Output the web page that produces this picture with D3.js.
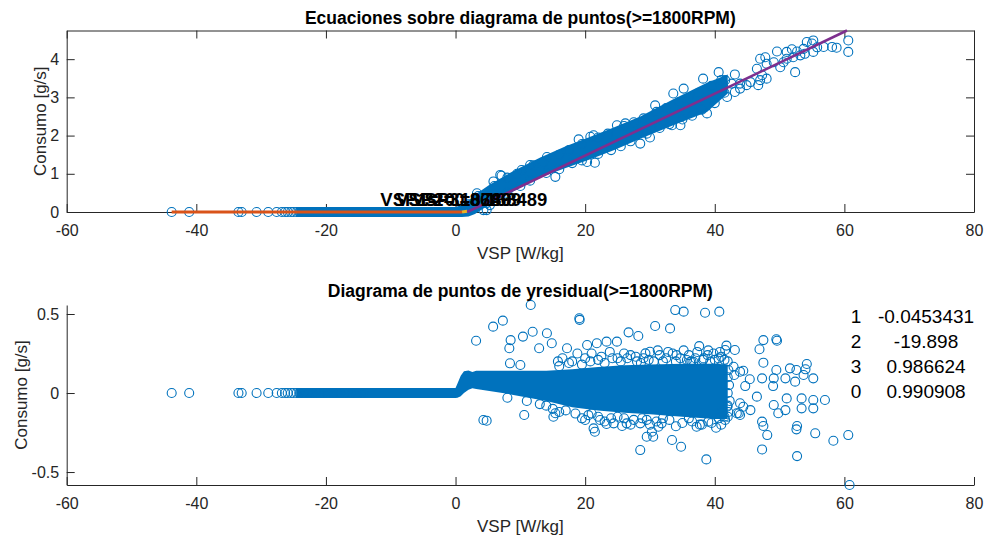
<!DOCTYPE html>
<html>
<head>
<meta charset="utf-8">
<script src="https://cdn.jsdelivr.net/npm/d3@7"></script>
<style>
  body { margin: 0; background: #fff; }
  svg { display: block; font-family: "Liberation Sans", Arial, Helvetica, sans-serif; }
</style>
</head>
<body>
<div id="graph"></div>
<script>
// ---- data ----
var xTicks = [-60, -40, -20, 0, 20, 40, 60, 80];
var topTicks = [0, 1, 2, 3, 4];
var botTicks = [-0.5, 0, 0.5];

// points with VSP < 0 : consumption and residual are both 0
var negPts = [[-43.8,0],[-41.1,0],[-33.5,0],[-33.0,0],[-30.7,0],[-28.9,0],[-27.6,0],[-26.8,0],
  [-26.3,0],[-25.9,0],[-25.4,0],[-25.0,0],[-24.5,0],[-24.1,0],[-23.4,0],[-23.0,0],[-22.6,0],[-22.1,0],
  [-21.5,0],[-21.0,0],[-20.4,0],[-19.8,0],[-19.3,0],[-18.9,0],[-18.2,0],[-17.8,0],[-17.1,0],
  [-16.6,0],[-16.0,0],[-15.5,0],[-15.1,0],[-14.6,0],[-14.2,0]];

// dense part of the cloud (where circles merge into solid blue): x, upper edge, lower edge
var coreTopX  = [-24.6, 0, 1, 2, 3, 5.3, 9, 13, 17, 20.8, 24.5, 28.5, 33.6, 38.8, 42];
var coreTopHi = [0.13, 0.13, 0.18, 0.3, 0.45, 0.72, 1.08, 1.42, 1.72, 1.97, 2.22, 2.5, 2.95, 3.38, 3.6];
var coreTopLo = [-0.13, -0.13, -0.13, -0.12, -0.05, 0.2, 0.55, 0.9, 1.15, 1.38, 1.62, 1.92, 2.27, 2.62, 3.1];

var coreBotX  = [-24.6, 0, 0.3, 0.8, 1.3, 2.0, 2.6, 3.2, 8, 14, 18, 22, 26, 30, 35, 40, 42];
var coreBotHi = [0.032, 0.032, 0.06, 0.11, 0.138, 0.143, 0.133, 0.141, 0.141, 0.141, 0.15, 0.165, 0.175, 0.18, 0.185, 0.185, 0.18];
var coreBotLo = [-0.032, -0.032, -0.03, -0.02, 0.0, 0.02, 0.03, 0.025, -0.005, -0.05, -0.09, -0.11, -0.125, -0.135, -0.15, -0.165, -0.165];

// consumption, VSP > 0 (loose points)
var consPts = [[3.3,0.49],[4.3,0.36],[4.3,0.05],[4.8,0.23],[4.8,0.05],[5.3,0.18],[5.85,0.8],[6.9,0.97],
  [7.1,0.95],[10.2,1.10],[11.5,1.23],[14.1,1.44],[15.4,0.92],[19.0,1.90],[20.3,1.31],[20.8,1.97],
  [21.3,2.01],[21.5,1.29],[24.9,2.27],[26.2,2.32],[28.5,1.79],[30.0,1.95],[30.8,2.79],[33.4,2.27],
  [33.6,3.10],[34.7,2.27],[35.2,3.23],[38.2,3.49],[38.8,2.58],[40.6,3.66],[41.6,3.45],[41.9,3.01],
  [42.6,3.36],[43.1,3.60],[43.1,3.14],[43.9,3.23],[43.9,3.36],[44.9,3.32],[45.5,3.40],[46.5,3.75],
  [46.7,3.32],[47.0,3.45],[47.0,4.01],[47.3,3.58],[47.8,4.05],[48.0,3.88],[48.0,3.49],[49.1,3.92],
  [49.6,4.20],[50.1,3.79],[50.6,3.92],[51.1,4.19],[51.1,4.01],[51.9,4.26],[52.1,4.05],[52.4,3.66],
  [52.7,4.20],[53.2,4.10],[53.7,4.27],[53.9,4.14],[54.2,4.45],[55.0,4.41],[55.2,4.49],[55.2,4.19],
  [55.8,4.31],[56.8,4.32],[58.1,4.32],[58.8,4.30],[60.6,4.49],[60.6,4.19],
  // along the edges of the dense band
  [2,0.2],[3.5,0.42],[6,0.68],[8,0.9],[9.5,1.0],[12,1.22],[13.5,1.3],[16,1.5],[17.5,1.62],
  [19.5,1.78],[22,1.95],[23.5,2.05],[26,2.25],[27.5,2.35],[29,2.45],[31,2.62],[32.5,2.72],
  [34.5,2.88],[36,2.98],[37.5,3.12],[39.5,3.3],[41,3.45],
  [6,0.3],[8,0.5],[10,0.68],[11.5,0.82],[14,1.02],[16,1.12],[18,1.28],[19.5,1.35],[22,1.52],
  [24,1.62],[25.5,1.72],[27,1.85],[29.5,2.05],[31.5,2.2],[33,2.3],[35,2.42],[36.5,2.52],
  [38,2.68],[40,2.85],[41.5,3.12]];

// residual, VSP > 0 (loose points)
var residPts = [[3.17,0.331],[5.8,0.42],[7.3,0.458],[8.3,0.283],[8.4,0.188],[8.5,0.335],[10.0,0.177],
  [10.4,0.357],[11.6,0.557],[11.9,0.388],[12.9,0.283],[14.1,0.378],[14.85,0.315],[17.2,0.283],
  [19.1,0.473],[19.15,0.463],[20.3,0.304],[21.8,0.315],[23.3,0.325],[24.9,0.325],[26.7,0.384],
  [28.2,0.361],[29.3,0.251],[30.0,0.261],[30.8,0.424],[33.1,0.409],[33.9,0.525],[34.1,0.240],
  [35.2,0.515],[35.7,0.209],[36.2,0.198],[36.7,0.198],[37.6,0.297],[38.3,0.219],[38.5,0.508],
  [39.3,0.198],[40.6,0.219],[40.7,0.515],[41.6,0.272],[42.1,0.146],[42.9,0.166],[43.0,0.114],
  [43.1,0.272],[43.9,0.135],[44.4,0.141],[44.7,0.044],[45.4,0.087],[46.9,0.277],[47.3,0.093],
  [47.5,0.335],[47.5,0.192],[49.0,0.044],[49.1,0.093],[49.5,0.340],[49.6,0.331],[49.5,0.146],
  [50.9,0.093],[51.6,0.156],[52.4,0.072],[52.6,0.146],[53.7,0.114],[54.0,0.150],[54.2,0.184],
  [55.2,0.093],
  [4.3,-0.171],[4.8,-0.175],[10.6,-0.139],[15.1,-0.15],[15.4,-0.128],[20.0,-0.171],[21.3,-0.224],
  [21.5,-0.245],[22.3,-0.171],[23.3,-0.196],[24.4,-0.192],[25.7,-0.209],[26.4,-0.192],[28.5,-0.192],
  [28.5,-0.361],[29.5,-0.277],[30.3,-0.245],[30.5,-0.277],[31.3,-0.213],[31.8,-0.192],[33.4,-0.297],
  [34.8,-0.340],[37.2,-0.213],[38.7,-0.420],[39.0,-0.181],[40.6,-0.160],[41.1,-0.118],[41.9,-0.087],
  [43.4,-0.128],[43.7,-0.128],[43.9,-0.065],[43.9,-0.139],[44.4,-0.087],[45.5,-0.108],[46.5,-0.023],
  [47.3,-0.181],[47.3,-0.357],[47.5,-0.209],[48.1,-0.266],[49.1,-0.076],[49.8,-0.128],[50.9,-0.108],
  [51.1,-0.034],[52.6,-0.230],[52.7,-0.209],[52.7,-0.399],[53.4,-0.034],[53.4,-0.097],[55.2,-0.044],
  [55.2,-0.097],[55.5,-0.255],[57.0,-0.044],[58.3,-0.302],[60.6,-0.266],[60.8,-0.582],
  // ragged edges of the dense band
  [15.8,0.2],[16.5,0.22],[18,0.2],[18.8,0.25],[20,0.22],[21,0.25],[22.5,0.23],[23.8,0.26],[25,0.22],
  [26,0.25],[27,0.24],[28,0.2],[29,0.22],[31.5,0.24],[32.5,0.22],[33.5,0.25],[34.7,0.22],[36,0.24],
  [37,0.22],[38.9,0.24],[39.8,0.25],[41,0.23],[42,0.2],[42,0.1],[42,0.0],[42,-0.08],[42,-0.15],
  [16,0.17],[17.5,0.19],[19.5,0.18],[20.8,0.2],[22,0.21],[23,0.19],[24.2,0.22],[25.5,0.2],
  [26.5,0.22],[27.8,0.23],[28.6,0.19],[29.8,0.21],[30.6,0.2],[31.2,0.27],[32,0.2],[32.8,0.26],
  [34,0.2],[35.2,0.27],[36.4,0.2],[37.3,0.26],[38.2,0.21],[39,0.27],[40,0.21],[40.8,0.26],
  [41.5,0.21],[41.8,0.3],[42.2,0.05],[42.3,-0.05],[42.1,-0.12],[41.6,-0.17],
  [8,-0.03],[11,-0.05],[13,-0.07],[15,-0.1],[17,-0.11],[18.5,-0.13],[20.5,-0.14],[22,-0.15],
  [24,-0.16],[26,-0.16],[27.5,-0.17],[29.5,-0.17],[31,-0.18],[33,-0.17],[35,-0.19],[36.5,-0.18],
  [38,-0.2],[39.5,-0.19],[41,-0.2],
  [14,-0.08],[16,-0.12],[19.5,-0.16],[21,-0.13],[23,-0.18],[25,-0.15],[27,-0.2],[28.8,-0.16],
  [30,-0.2],[32,-0.16],[34,-0.21],[36,-0.16],[37.7,-0.2],[40.2,-0.22],[41.5,-0.15]];

// fitted pieces (piecewise regression)
var fit1 = [[-43.8, 0], [1.0, 0]];
var fit2 = [[1.0, 0], [1.8, 0.02]];
var fit3 = [[1.8, 0.0], [60.4, 4.75]];

var vspLabels = ["VSP1=-0.18789", "VSP2=0.86469", "VSP3=0.168489"];
var vspLabelX = [-11.6, -9.15, -6.7];

var coefIdx = ["1", "2", "3", "0"];
var coefVal = ["-0.0453431", "-19.898", "0.986624", "0.990908"];

// ---- drawing ----
var w = 992, h = 541;
var vis = d3.select("#graph").append("svg").attr("width", w).attr("height", h);

var ink = "#262626", blue = "#0072BD";

var x = d3.scaleLinear().domain([-60, 80]).range([66.7, 974]);
var yTop = d3.scaleLinear().domain([0, 4.75]).range([212, 30.5]);
var yBot = d3.scaleLinear().domain([-0.582, 0.557]).range([485, 305]);

function styleAxis(g) {
  g.selectAll("path.domain").attr("stroke", ink);
  g.selectAll(".tick line").attr("stroke", ink);
  g.selectAll(".tick text").attr("fill", ink).attr("font-size", 16);
}

function axes(y, yt, box) {
  var gx = vis.append("g").attr("transform", "translate(0," + y.range()[0] + ")")
    .call(d3.axisBottom(x).tickValues(xTicks).tickSizeInner(-8).tickSizeOuter(0)
      .tickPadding(13).tickFormat(d => String(d)));
  styleAxis(gx);
  var gy = vis.append("g").attr("transform", "translate(" + x.range()[0] + ",0)")
    .call(d3.axisLeft(y).tickValues(yt).tickSizeInner(-8).tickSizeOuter(0)
      .tickPadding(7.5).tickFormat(d => String(d)));
  styleAxis(gy);
  if (box) {
    var gt = vis.append("g").attr("transform", "translate(0," + y.range()[1] + ")")
      .call(d3.axisTop(x).tickValues(xTicks).tickSizeInner(-8).tickSizeOuter(0).tickFormat(""));
    styleAxis(gt);
    var gr = vis.append("g").attr("transform", "translate(" + x.range()[1] + ",0)")
      .call(d3.axisRight(y).tickValues(yt).tickSizeInner(-8).tickSizeOuter(0).tickFormat(""));
    styleAxis(gr);
  }
}

function scatter(y, pts, cx, hi, lo) {
  var core = cx.map((v, i) => [v, hi[i], lo[i]]);
  vis.append("path").datum(core)
    .attr("fill", blue)
    .attr("d", d3.area().x(d => x(d[0])).y0(d => y(d[2])).y1(d => y(d[1])));
  vis.append("g").selectAll("circle")
    .data(negPts.concat(pts))
    .enter().append("circle")
    .attr("cx", d => x(d[0]))
    .attr("cy", d => y(d[1]))
    .attr("r", 4.5)
    .attr("fill", "none")
    .attr("stroke", blue)
    .attr("stroke-width", 1.1);
}

function labels(y, title, titleY, ylabX) {
  vis.append("text").attr("x", (x.range()[0] + x.range()[1]) / 2).attr("y", titleY)
    .attr("text-anchor", "middle").attr("font-weight", "bold").attr("font-size", 17.5)
    .attr("fill", "#000").text(title);
  vis.append("text").attr("x", (x.range()[0] + x.range()[1]) / 2).attr("y", y.range()[0] + 47)
    .attr("text-anchor", "middle").attr("font-size", 17).attr("fill", ink).text("VSP [W/kg]");
  var cy = (y.range()[0] + y.range()[1]) / 2;
  vis.append("text").attr("transform", "translate(" + ylabX + "," + cy + ") rotate(-90)")
    .attr("text-anchor", "middle").attr("font-size", 17).attr("fill", ink).text("Consumo [g/s]");
}

// top: consumption with fitted lines
axes(yTop, topTicks, true);
scatter(yTop, consPts, coreTopX, coreTopHi, coreTopLo);

var line = d3.line().x(d => x(d[0])).y(d => yTop(d[1]));
[[fit1, "#D95319", 3], [fit2, "#EDB120", 3], [fit3, "#7E2F8E", 2.5]].forEach(function (f) {
  vis.append("path").datum(f[0]).attr("d", line)
    .attr("fill", "none").attr("stroke", f[1]).attr("stroke-width", f[2]);
});

vis.selectAll("text.vsp").data(vspLabels).enter().append("text")
  .attr("class", "vsp")
  .attr("x", (d, i) => x(vspLabelX[i]))
  .attr("y", yTop(0.16))
  .attr("font-weight", "bold").attr("font-size", 18.5).attr("fill", "#000")
  .text(d => d);

labels(yTop, "Ecuaciones sobre diagrama de puntos(>=1800RPM)", 24, 46);

// bottom: residuals
axes(yBot, botTicks, false);
scatter(yBot, residPts, coreBotX, coreBotHi, coreBotLo);
labels(yBot, "Diagrama de puntos de yresidual(>=1800RPM)", 297, 27);

var rows = vis.append("g").attr("font-size", 19).attr("fill", "#000");
rows.selectAll("text.idx").data(coefIdx).enter().append("text")
  .attr("class", "idx")
  .attr("x", x(61.8)).attr("y", (d, i) => yBot(0.443) + i * 25)
  .attr("text-anchor", "middle").text(d => d);
rows.selectAll("text.val").data(coefVal).enter().append("text")
  .attr("class", "val")
  .attr("x", x(72.6)).attr("y", (d, i) => yBot(0.443) + i * 25)
  .attr("text-anchor", "middle").text(d => d);
</script>
</body>
</html>
